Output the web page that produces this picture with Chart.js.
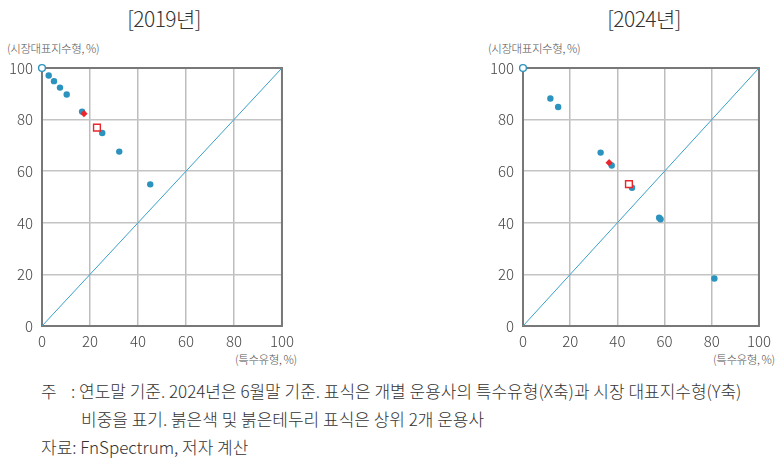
<!DOCTYPE html>
<html><head><meta charset="utf-8">
<script src="https://cdn.jsdelivr.net/npm/chart.js@4"></script>
<style>
html,body{margin:0;padding:0;background:#fff;}
body{width:777px;height:459px;position:relative;overflow:hidden;font-family:"Noto Sans CJK KR","Noto Sans",sans-serif;color:#333;}
.abs{position:absolute;white-space:nowrap;}
canvas{position:absolute;}
.title{font-size:21px;font-weight:300;color:#333;transform:translateX(-50%);top:3px;letter-spacing:-0.6px;}
.ylab{font-size:11.5px;font-weight:300;color:#555;top:40px;letter-spacing:-0.4px;}
.xlab{font-size:11.5px;font-weight:300;color:#555;top:351px;letter-spacing:-0.4px;}
.note{font-size:17px;font-weight:300;color:#333;letter-spacing:0px;}
</style></head><body>
<div class="abs title" style="left:164px">[2019년]</div>
<div class="abs title" style="left:644px">[2024년]</div>
<div class="abs ylab" style="left:7px">(시장대표지수형, %)</div>
<div class="abs ylab" style="left:488px">(시장대표지수형, %)</div>
<div class="abs xlab" style="left:235px">(특수유형, %)</div>
<div class="abs xlab" style="left:713px">(특수유형, %)</div>
<div class="abs note" style="left:41px;top:378px">주</div>
<div class="abs note" style="left:71px;top:378px">: 연도말 기준. 2024년은 6월말 기준. 표식은 개별 운용사의 특수유형(X축)과 시장 대표지수형(Y축)</div>
<div class="abs note" style="left:81px;top:406px">비중을 표기. 붉은색 및 붉은테두리 표식은 상위 2개 운용사</div>
<div class="abs note" style="left:41px;top:434px">자료: FnSpectrum, 저자 계산</div>
<canvas id="c2019" width="300" height="320" style="left:0px;top:50px;width:300px;height:320px"></canvas>
<canvas id="c2024" width="296" height="320" style="left:481px;top:50px;width:296px;height:320px"></canvas>
<script>
// ---- data ----
const tickStep = 20;
const axisMin = 0, axisMax = 100;

// 2019: special type share (x), market index type share (y)
const x2019 = [2.8, 5.0, 7.5, 10.3, 16.7, 25.1, 32.2, 45.1];
const y2019 = [97.1, 94.9, 92.4, 89.7, 83.1, 74.8, 67.6, 54.9];
const top1X2019 = [17.5], top1Y2019 = [82.3];   // red filled
const top2X2019 = [22.9], top2Y2019 = [76.9];   // red outlined
const openX2019 = [0], openY2019 = [100];

// 2024
const x2024 = [11.6, 14.9, 32.9, 37.6, 46.2, 57.7, 58.3, 81.1];
const y2024 = [88.2, 84.9, 67.2, 62.2, 53.6, 42.0, 41.4, 18.4];
const top1X2024 = [36.5], top1Y2024 = [63.3];
const top2X2024 = [44.9], top2Y2024 = [55.0];
const openX2024 = [0], openY2024 = [100];

const diagX = [0, 100], diagY = [0, 100];

const zip = (xs, ys) => xs.map((x, i) => ({x: x, y: ys[i]}));
const BLUE = '#2c93bf', RED = '#e8262b';

const framePlugin = {
  id: 'frame',
  beforeDatasetsDraw(chart) {
    const a = chart.chartArea, c = chart.ctx;
    c.save();
    c.strokeStyle = '#787878';
    c.lineWidth = 2;
    c.strokeRect(a.left, a.top, a.right - a.left, a.bottom - a.top);
    c.restore();
  }
};

function makeChart(id, xs, ys, t1x, t1y, t2x, t2y, ox, oy, padRight) {
  const tickFont = {family: '"Noto Sans CJK KR","Noto Sans",sans-serif', size: 15, weight: 300};
  return new Chart(document.getElementById(id), {
    type: 'scatter',
    data: {
      datasets: [
        {type: 'line', data: zip(diagX, diagY), borderColor: '#3aa0c8', borderWidth: 1, pointRadius: 0, fill: false, order: 4},
        {data: zip(xs, ys), backgroundColor: BLUE, borderColor: BLUE, pointRadius: 3.2, borderWidth: 0, order: 3, clip: false},
        {data: zip(t1x, t1y), pointStyle: 'rectRot', backgroundColor: RED, borderColor: RED, pointRadius: 3.6, borderWidth: 0, order: 2, clip: false},
        {data: zip(t2x, t2y), pointStyle: 'rect', backgroundColor: '#ffffff', borderColor: RED, pointRadius: 4.8, borderWidth: 1.4, order: 1, clip: false},
        {data: zip(ox, oy), backgroundColor: '#ffffff', borderColor: BLUE, pointRadius: 3.4, borderWidth: 1.4, order: 0, clip: false}
      ]
    },
    options: {
      responsive: false, animation: false, devicePixelRatio: 1,
      layout: {padding: {top: 16, right: padRight, bottom: 14, left: 0}},
      plugins: {legend: {display: false}, tooltip: {enabled: false}},
      scales: {
        x: {
          type: 'linear', min: axisMin, max: axisMax,
          afterFit: s => { s.height = 30; },
          grid: {display: true, color: '#bdbdbd', lineWidth: 1.5, drawTicks: false},
          border: {display: false},
          ticks: {stepSize: tickStep, color: '#444', font: tickFont, padding: 6, maxRotation: 0}
        },
        y: {
          type: 'linear', min: axisMin, max: axisMax,
          afterFit: s => { s.width = 42; },
          grid: {display: true, color: '#c4c4c4', lineWidth: 1.5, drawTicks: false},
          border: {display: false},
          ticks: {stepSize: tickStep, color: '#444', font: tickFont, padding: 9}
        }
      }
    },
    plugins: [framePlugin]
  });
}
makeChart('c2019', x2019, y2019, top1X2019, top1Y2019, top2X2019, top2Y2019, openX2019, openY2019, 18);
makeChart('c2024', x2024, y2024, top1X2024, top1Y2024, top2X2024, top2Y2024, openX2024, openY2024, 14);
</script>
</body></html>
